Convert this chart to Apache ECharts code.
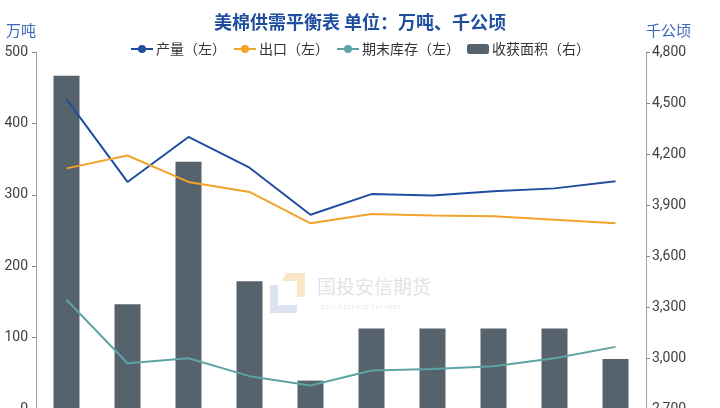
<!DOCTYPE html>
<html>
<head>
<meta charset="utf-8">
<title>美棉供需平衡表</title>
<script src="https://cdn.jsdelivr.net/npm/echarts@6/dist/echarts.min.js"></script>
<style>
  html, body { margin: 0; padding: 0; background: #ffffff; }
  #main { width: 720px; height: 408px; }
</style>
</head>
<body>
<div id="main"></div>
<script>
// 年度（图中横轴标签被裁掉）
var years = ['2019/20', '2020/21', '2021/22', '2022/23', '2023/24', '2024/25', '2025/26', '2026/27', '2027/28', '2028/29'];
// 左轴：万吨
var production = [434, 318, 381, 338, 272, 301, 299, 305, 309, 319];
var exports = [337, 355, 318, 304, 260, 273, 271, 270, 265, 260];
var endStocks = [153, 64, 71, 46, 33, 54, 56, 60, 71, 87];
// 右轴：千公顷
var harvestArea = [4661, 3316, 4155, 3451, 2867, 3173, 3173, 3173, 3173, 2994];

var seriesNames = ['产量（左）', '出口（左）', '期末库存（左）', '收获面积（右）'];

var cjk = '"Noto Sans CJK SC", "Noto Sans", sans-serif';
var numFont = 'Roboto, "Noto Sans", sans-serif';

var myChart = echarts.init(document.getElementById('main'), null, {renderer: 'canvas'});

var option = {
    backgroundColor: '#ffffff',
    animation: false,
    title: {
        text: '美棉供需平衡表 单位：万吨、千公顷',
        left: 'center',
        top: 8,
        textStyle: {
            color: '#1f4e9f',
            fontSize: 18,
            fontWeight: 'bold',
            fontFamily: cjk
        }
    },
    // 顶部图例
    legend: {
        top: 37,
        left: 'center',
        itemGap: 7,
        itemWidth: 22,
        itemHeight: 10,
        textStyle: {
            color: '#333333',
            fontSize: 14,
            fontFamily: cjk,
            padding: [0, 0, 0, -2]
        },
        data: [
            {name: seriesNames[0]},
            {name: seriesNames[1]},
            {name: seriesNames[2]},
            {name: seriesNames[3], icon: 'roundRect', itemStyle: {borderRadius: 3}}
        ]
    },
    // 底部被裁掉，坐标区贴着下边缘
    grid: {
        left: 36,
        right: 74,
        top: 52,
        bottom: -1,
        outerBoundsMode: 'none',
        containLabel: false
    },
    xAxis: {
        type: 'category',
        data: years,
        axisLine: {lineStyle: {color: '#a5a5a5'}},
        axisTick: {show: false},
        axisLabel: {color: '#404040', fontSize: 13}
    },
    yAxis: [
        {
            type: 'value',
            name: '万吨',
            nameLocation: 'end',
            nameGap: 14,
            nameTextStyle: {color: '#3a67b8', fontSize: 15, fontFamily: cjk, align: 'right'},
            min: 0,
            max: 500,
            interval: 100,
            axisLine: {show: true, lineStyle: {color: '#a5a5a5'}},
            axisTick: {show: true, length: 4, lineStyle: {color: '#8a8a8a'}},
            axisLabel: {color: '#404040', fontSize: 14, margin: 8, fontFamily: numFont},
            splitLine: {show: false}
        },
        {
            type: 'value',
            name: '千公顷',
            nameLocation: 'end',
            nameGap: 14,
            nameTextStyle: {color: '#3a67b8', fontSize: 15, fontFamily: cjk, align: 'left'},
            min: 2700,
            max: 4800,
            interval: 300,
            axisLine: {show: true, lineStyle: {color: '#a5a5a5'}},
            axisTick: {show: true, length: 4, lineStyle: {color: '#8a8a8a'}},
            axisLabel: {
                color: '#404040', fontSize: 14, margin: 6, fontFamily: numFont,
                formatter: function (v) { return v.toLocaleString('en-US'); }
            },
            splitLine: {show: false}
        }
    ],
    // 水印
    graphic: [
        {
            type: 'polygon',
            shape: {points: [[286, 273], [305, 273], [305, 297], [297, 297], [297, 281], [282, 281]]},
            style: {fill: '#f8e6c6'},
            z: 0
        },
        {
            type: 'polygon',
            shape: {points: [[270, 285], [278, 285], [278, 305], [297, 305], [297, 313], [270, 313]]},
            style: {fill: '#dde2f0'},
            z: 0
        },
        {
            type: 'text',
            left: 317,
            top: 277,
            style: {text: '国投安信期货', fill: '#e2e2e2', font: '19px ' + cjk},
            z: 0
        },
        {
            type: 'text',
            left: 321,
            top: 305,
            style: {text: 'S D I C   E S S E N C E   F U T U R E S', fill: '#e4e4e4', font: '5px ' + numFont},
            z: 0
        }
    ],
    series: [
        {
            name: seriesNames[3],
            type: 'bar',
            yAxisIndex: 1,
            barWidth: 26,
            itemStyle: {color: '#56626c'},
            data: harvestArea,
            z: 1
        },
        {
            name: seriesNames[0],
            type: 'line',
            yAxisIndex: 0,
            symbol: 'circle',
            symbolSize: 7,
            showSymbol: false,
            lineStyle: {width: 2, color: '#1f4e9f'},
            itemStyle: {color: '#1f4e9f'},
            data: production,
            z: 3
        },
        {
            name: seriesNames[1],
            type: 'line',
            yAxisIndex: 0,
            symbol: 'circle',
            symbolSize: 7,
            showSymbol: false,
            lineStyle: {width: 2, color: '#f2a32a'},
            itemStyle: {color: '#f2a32a'},
            data: exports,
            z: 3
        },
        {
            name: seriesNames[2],
            type: 'line',
            yAxisIndex: 0,
            symbol: 'circle',
            symbolSize: 7,
            showSymbol: false,
            lineStyle: {width: 2, color: '#5fa4a4'},
            itemStyle: {color: '#5fa4a4'},
            data: endStocks,
            z: 3
        }
    ]
};

myChart.setOption(option);
</script>
</body>
</html>
